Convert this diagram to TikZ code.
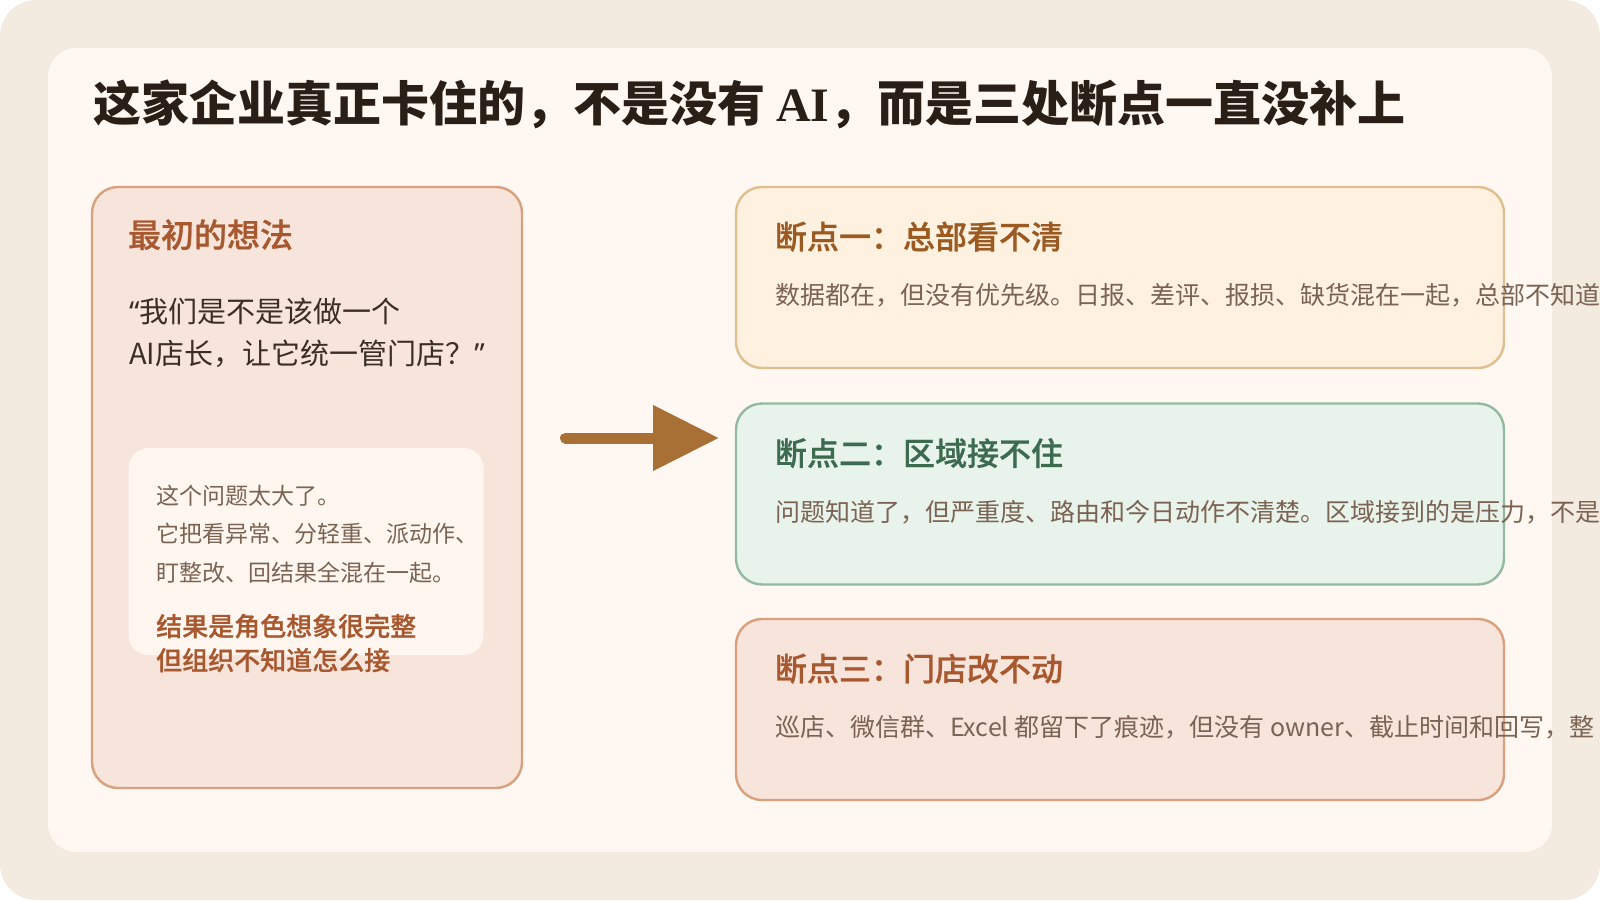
\documentclass[tikz,border=0pt]{standalone}
\usepackage{fontspec}
\setmainfont{Noto Sans CJK SC}
\newfontfamily\cjkmedium[FakeBold=0.7]{Noto Sans CJK SC Medium}
\newfontfamily\latinserif{Liberation Serif}
\newfontfamily\latinsans{Noto Sans}
\usetikzlibrary{arrows.meta,positioning}

\definecolor{pagebg}{HTML}{F3EBE0}
\definecolor{panelbg}{HTML}{FFF8F2}
\definecolor{ink}{HTML}{2A1F17}
\definecolor{quoteink}{HTML}{3B2E26}
\definecolor{softink}{HTML}{7A6352}
\definecolor{rustfill}{HTML}{F7E5DC}
\definecolor{rustline}{HTML}{D9A07E}
\definecolor{rusttext}{HTML}{A8582F}
\definecolor{sandfill}{HTML}{FFF1E0}
\definecolor{sandline}{HTML}{DFBE8F}
\definecolor{sandtext}{HTML}{9A5A22}
\definecolor{sagefill}{HTML}{E8F3EC}
\definecolor{sageline}{HTML}{93BAA0}
\definecolor{sagetext}{HTML}{3D6B50}
\definecolor{notefill}{HTML}{FFF6F0}
\definecolor{arrowc}{HTML}{A87034}

\newcommand{\fs}[1]{\fontsize{#1}{#1}\selectfont}

\begin{document}
\begin{tikzpicture}[x=1pt,y=-1pt,
	card/.style={draw,line width=2.4pt,rounded corners=26pt,inner sep=0pt},
	txt/.style={anchor=base west,inner sep=0pt},
	flow/.style={color=arrowc,line width=11pt,line cap=round,
		-{Triangle[length=66pt,width=63pt]}}]
\useasboundingbox (0,0) rectangle (1600,900);
\fill[white] (0,0) rectangle (1600,900);
\fill[pagebg,rounded corners=36pt] (0,0) rectangle (1600,900);
\fill[panelbg,rounded corners=28pt] (48,48) rectangle (1552,852);

\node[txt,text=ink] (title) at (93,121)
	{\fs{48}\bfseries 这家企业真正卡住的，不是没有 {\latinserif AI}，而是三处断点一直没补上};

% left: the first idea
\node[card,fill=rustfill,draw=rustline,minimum width=430pt,minimum height=601pt]
	(idea) at (307,487.5) {};
\node[txt,text=rusttext] (idea-head) at ([xshift=37pt,yshift=-61.5pt]idea.north west)
	{\fs{33}\cjkmedium 最初的想法};
\node[txt,text=quoteink] (quote1) at (129,322)
	{\fs{29}{\latinsans “}我们是不是该做一个};
\node[txt,text=quoteink] (quote2) at (129,364)
	{\fs{29}AI店长，让它统一管门店？{\latinsans ”}};

\node[fill=notefill,rounded corners=20pt,minimum width=355pt,minimum height=207pt,
	inner sep=0pt] (note) at (306,551.5) {};
\node[txt,text=softink] (note1) at (156,504) {\fs{23}这个问题太大了。};
\node[txt,text=softink] (note2) at (156,542) {\fs{23}它把看异常、分轻重、派动作、};
\node[txt,text=softink] (note3) at (156,581) {\fs{23}盯整改、回结果全混在一起。};
\node[txt,text=rusttext] (verdict1) at (156,636) {\fs{26}\cjkmedium 结果是角色想象很完整};
\node[txt,text=rusttext] (verdict2) at (156,670) {\fs{26}\cjkmedium 但组织不知道怎么接};

% arrow
\coordinate (shaft) at (565.5,438);
\coordinate (tip) at (719,438);
\draw[flow] (shaft) -- (tip);

% right: three break points
\foreach \n/\yc/\fc/\lc/\tc/\hd/\bd in {
	1/277.5/sandfill/sandline/sandtext/{断点一：总部看不清}/{数据都在，但没有优先级。日报、差评、报损、缺货混在一起，总部不知道},
	2/494/sagefill/sageline/sagetext/{断点二：区域接不住}/{问题知道了，但严重度、路由和今日动作不清楚。区域接到的是压力，不是},
	3/709.5/rustfill/rustline/rusttext/{断点三：门店改不动}/{巡店、微信群、Excel 都留下了痕迹，但没有 owner、截止时间和回写，整}}{
	\node[card,fill=\fc,draw=\lc,minimum width=768pt,minimum height=181pt]
		(gap\n) at (1120,\yc) {};
	\node[txt,text=\tc] (gap\n-head) at ([xshift=40pt,yshift=-63pt]gap\n.north west)
		{\fs{32}\cjkmedium \hd};
	\node[txt,text=softink] (gap\n-body) at ([xshift=40pt,yshift=-119pt]gap\n.north west)
		{\fs{25}\bd};
}
\end{tikzpicture}
\end{document}
